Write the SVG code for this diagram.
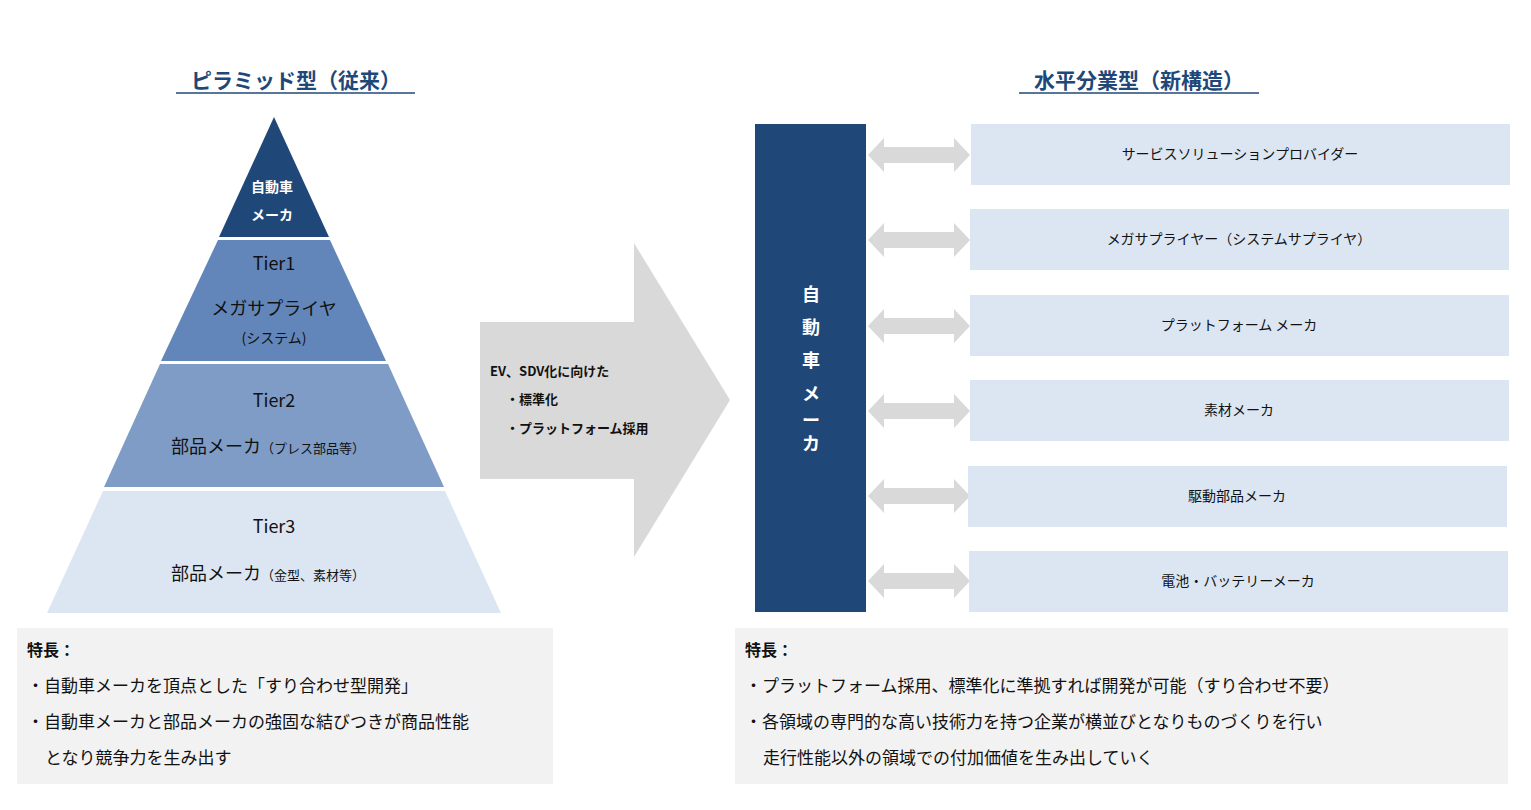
<svg xmlns="http://www.w3.org/2000/svg" width="1531" height="810" viewBox="0 0 1531 810">
<style>
text{font-family:"Noto Sans CJK JP","Noto Sans CJK SC",sans-serif;fill:#111}
.t{font-size:21px;font-weight:bold;fill:#1f4879}
.b{fill:#dce6f2}
.s{font-size:14px}
.m{font-size:18px}
.w{fill:#fff;font-weight:bold}
.g{fill:#f2f2f2}
.da{fill:#d9d9d9}
</style>
<defs>
<path id="dbl" d="M0 0 L16 -17 L16 -8 L86 -8 L86 -17 L102 0 L86 17 L86 8 L16 8 L16 17 Z"/>
</defs>
<rect width="1531" height="810" fill="#fff"/>
<g id="title-left"><text class="t" x="296" y="88" text-anchor="middle">ピラミッド型（従来）</text><line x1="176" y1="93" x2="415" y2="93" stroke="#1f4879" stroke-width="1.5"/></g>
<g id="title-right"><text class="t" x="1139" y="88" text-anchor="middle">水平分業型（新構造）</text><line x1="1019" y1="93" x2="1259" y2="93" stroke="#1f4879" stroke-width="1.5"/></g>
<g id="pyr-top"><polygon points="274,117 329,237 219,237" fill="#1f4879"/><text class="w" x="272" y="192" text-anchor="middle" font-size="14">自動車</text><text class="w" x="272" y="220" text-anchor="middle" font-size="14">メーカ</text></g>
<g id="tier1"><polygon points="218,240 330,240 386,361 161,361" fill="#6286b9"/><text class="m" x="274" y="270" text-anchor="middle">Tier1</text><text class="m" x="274" y="315" text-anchor="middle">メガサプライヤ</text><text class="s" x="274" y="343" text-anchor="middle">(システム)</text></g>
<g id="tier2"><polygon points="160,364 388,364 444,487 104,487" fill="#7f9cc6"/><text class="m" x="274" y="407" text-anchor="middle">Tier2</text><text x="171" y="453" font-size="18">部品メーカ<tspan font-size="13">（プレス部品等）</tspan></text></g>
<g id="tier3"><polygon points="103,491 445,491 501,613 47,613" fill="#dce6f2"/><text class="m" x="274" y="533" text-anchor="middle">Tier3</text><text x="171" y="580" font-size="18">部品メーカ<tspan font-size="13">（金型、素材等）</tspan></text></g>
<g id="big-arrow"><polygon points="480,322 634,322 634,243 730,400 634,557 634,479 480,479" fill="#d9d9d9"/><text x="490" y="376" font-size="13" font-weight="bold">EV、SDV化に向けた</text><text x="506" y="404" font-size="13" font-weight="bold">・標準化</text><text x="506" y="433" font-size="13" font-weight="bold">・プラットフォーム採用</text></g>
<g id="oem"><rect x="755" y="124" width="111" height="488" fill="#1f4879"/><g class="w" font-size="18" text-anchor="middle"><text class="w" x="811" y="301">自</text><text class="w" x="811" y="334">動</text><text class="w" x="811" y="367">車</text><text class="w" x="811" y="400">メ</text><text class="w" x="811" y="427">ー</text><text class="w" x="811" y="450">カ</text></g></g>
<g id="connectors" class="da">
<use href="#dbl" x="868" y="155"/><use href="#dbl" x="868" y="240"/><use href="#dbl" x="868" y="326"/><use href="#dbl" x="868" y="411"/><use href="#dbl" x="868" y="496"/><use href="#dbl" x="868" y="581"/>
</g>
<g id="p1"><rect class="b" x="971" y="124" width="539" height="61"/><text class="s" x="1240" y="159" text-anchor="middle">サービスソリューションプロバイダー</text></g>
<g id="p2"><rect class="b" x="970" y="209" width="539" height="61"/><text class="s" x="1239" y="244" text-anchor="middle">メガサプライヤー（システムサプライヤ）</text></g>
<g id="p3"><rect class="b" x="970" y="295" width="539" height="61"/><text class="s" x="1239" y="330" text-anchor="middle">プラットフォーム メーカ</text></g>
<g id="p4"><rect class="b" x="970" y="380" width="539" height="61"/><text class="s" x="1239" y="415" text-anchor="middle">素材メーカ</text></g>
<g id="p5"><rect class="b" x="968" y="466" width="539" height="61"/><text class="s" x="1237" y="501" text-anchor="middle">駆動部品メーカ</text></g>
<g id="p6"><rect class="b" x="969" y="551" width="539" height="61"/><text class="s" x="1238" y="586" text-anchor="middle">電池・バッテリーメーカ</text></g>
<g id="feat-left"><rect class="g" x="17" y="628" width="536" height="156"/><text x="27" y="656" font-size="16" font-weight="bold">特長：</text><text x="27" y="692" font-size="17">・自動車メーカを頂点とした「すり合わせ型開発」</text><text x="27" y="728" font-size="17">・自動車メーカと部品メーカの強固な結びつきが商品性能</text><text x="45" y="764" font-size="17">となり競争力を生み出す</text></g>
<g id="feat-right"><rect class="g" x="735" y="628" width="773" height="156"/><text x="745" y="656" font-size="16" font-weight="bold">特長：</text><text x="745" y="692" font-size="17">・プラットフォーム採用、標準化に準拠すれば開発が可能（すり合わせ不要）</text><text x="745" y="728" font-size="17">・各領域の専門的な高い技術力を持つ企業が横並びとなりものづくりを行い</text><text x="763" y="764" font-size="17">走行性能以外の領域での付加価値を生み出していく</text></g>
</svg>
